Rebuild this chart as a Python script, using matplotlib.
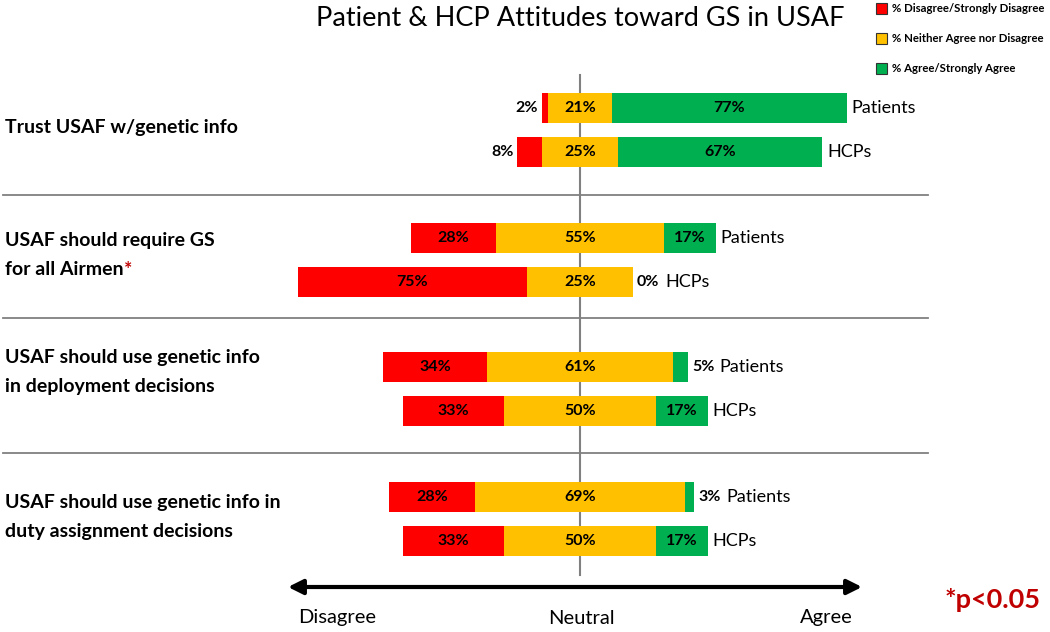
import numpy as np
import matplotlib.pyplot as plt
from matplotlib.patches import Rectangle

plt.rcParams['font.family'] = ['Lato', 'DejaVu Sans']

# data
questions = [['Trust USAF w/genetic info'],
             ['USAF should require GS', 'for all Airmen'],
             ['USAF should use genetic info', 'in deployment decisions'],
             ['USAF should use genetic info in', 'duty assignment decisions']]
significant = [False, True, False, False]
groups = ['Patients', 'HCPs']

patients_dis = [2, 28, 34, 28]
patients_neu = [21, 55, 61, 69]
patients_agr = [77, 17, 5, 3]

hcp_dis = [8, 75, 33, 33]
hcp_neu = [25, 25, 50, 50]
hcp_agr = [67, 0, 17, 17]
# neutral segment lengths as drawn in the source chart (row 2 is drawn ~35% long)
hcp_neu_drawn = [25, 35, 50, 50]

legend_labels = ['% Disagree/Strongly Disagree', '% Neither Agree nor Disagree',
                 '% Agree/Strongly Agree']
colors = ['#FF0000', '#FFC000', '#00B050']

# layout (y in pixel-like units, x in percent around neutral midpoint)
px = 3.05
group_y = [130, 260, 389, 519]
label_y = [128, 255, 372, 517]
row_off = 22
bar_h = 30

fig = plt.figure(figsize=(10.5, 6.32), dpi=100)
ax = fig.add_axes([0, 0, 1, 1])
ax.axis('off')
ax.set_xlim(-580 / px, 470 / px)
ax.set_ylim(632, 0)

# center line
ax.plot([0, 0], [75, 575], color='#808080', lw=1.5, zorder=1)

# separators
for yy in [195, 318, 453]:
    ax.plot([-577 / px, 348 / px], [yy, yy], color='#808080', lw=1.3, zorder=1)

data = {'Patients': (patients_dis, patients_neu, patients_agr, patients_neu),
        'HCPs': (hcp_dis, hcp_neu, hcp_agr, hcp_neu_drawn)}

for i in range(len(questions)):
    for j, g in enumerate(groups):
        dis, neu, agr, neu_w = [d[i] for d in data[g]]
        y = group_y[i] + (2 * j - 1) * row_off
        left = -(dis + neu_w / 2)
        ax.barh(y, dis, left=left, height=bar_h, color=colors[0], zorder=2)
        ax.barh(y, neu_w, left=-neu_w / 2, height=bar_h, color=colors[1], zorder=2)
        ax.barh(y, agr, left=neu_w / 2, height=bar_h, color=colors[2], zorder=2)
        lbl = dict(fontsize=11.5, fontweight='bold', va='center', zorder=3)
        if dis >= 10:
            ax.text(left + dis / 2, y, f'{dis}%', ha='center', **lbl)
        else:
            ax.text(left - 1.2, y, f'{dis}%', ha='right', **lbl)
        ax.text(0, y, f'{neu}%', ha='center', **lbl)
        end = neu_w / 2 + agr
        if agr >= 10:
            ax.text(neu_w / 2 + agr / 2, y, f'{agr}%', ha='center', **lbl)
            ax.text(end + 1.5, y, g, ha='left', va='center', fontsize=13)
        else:
            t = ax.text(end + 1.2, y, f'{agr}%', ha='left', **lbl)
            ax.annotate(g, xy=(1, 0.5), xycoords=t, xytext=(4, 0),
                        textcoords='offset points', ha='left', va='center',
                        fontsize=13)

# question labels
for i, lines in enumerate(questions):
    n = len(lines)
    for k, line in enumerate(lines):
        yy = label_y[i] + (k - (n - 1) / 2) * 29
        t = ax.text(-575 / px, yy, line, ha='left', va='center', fontsize=14,
                    fontweight='bold')
    if significant[i]:
        ax.annotate('*', xy=(1, 1), xycoords=t, xytext=(0.5, 0),
                    textcoords='offset points', ha='left', va='top',
                    fontsize=14, fontweight='bold', color='#C00000')

# title
ax.text(0, 18, 'Patient & HCP Attitudes toward GS in USAF', ha='center',
        va='center', fontsize=19.5)

# legend
for k, (lab, c) in enumerate(zip(legend_labels, colors)):
    yf = 1 - (8 + 30 * k) / 632
    fig.patches.append(Rectangle((876 / 1050, yf - 5.5 / 632), 11 / 1050, 11 / 632,
                                 transform=fig.transFigure, facecolor=c,
                                 edgecolor='#333333', lw=0.8))
    fig.text(892 / 1050, yf, lab, ha='left', va='center', fontsize=8.2,
             fontweight='bold')

# arrow
ax.annotate('', xy=(862 / px - 580 / px, 587), xytext=(288 / px - 580 / px, 587),
            arrowprops=dict(arrowstyle='<|-|>', lw=3, color='black',
                            mutation_scale=22, shrinkA=0, shrinkB=0))
for xx, s in [(337, 'Disagree'), (581, 'Neutral'), (826, 'Agree')]:
    ax.text((xx - 580) / px, 618, s, ha='center', va='center', fontsize=14.5)

ax.text((993 - 580) / px, 600, '*p<0.05', ha='center', va='center',
        fontsize=19.5, fontweight='bold', color='#C00000')

fig.savefig('out.png', dpi=100)
